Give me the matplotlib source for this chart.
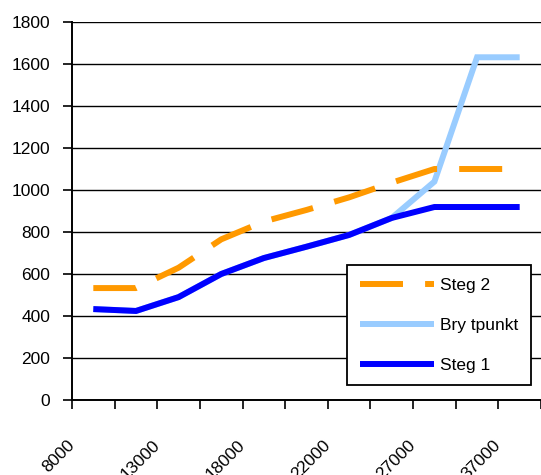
import numpy as np
import matplotlib
matplotlib.use("Agg")
import matplotlib.pyplot as plt
from matplotlib.transforms import ScaledTranslation

plt.rcParams['font.family'] = ['Liberation Sans', 'DejaVu Sans']

# data
steg1 = [433, 424, 490, 600, 676, 730, 786, 867, 919, 919, 919]
brytpunkt = [433, 424, 490, 600, 676, 730, 786, 867, 1040, 1632, 1632]
steg2 = [533, 533, 630, 765, 850, 905, 965, 1035, 1100, 1100, 1100]
# labels sit on every second category boundary
tick_labels = ["8000", "", "13000", "", "18000", "", "22000", "", "27000", "", "37000", ""]

x = np.arange(len(steg1))

fig = plt.figure(figsize=(5.41, 4.75), dpi=100)
ax = fig.add_axes([72 / 541, 1 - 400 / 475, 1 - 72 / 541, (400 - 22) / 475])

lw = 4.3
l_bry, = ax.plot(x, brytpunkt, color='#99CCFF', lw=lw, solid_capstyle='butt',
                 solid_joinstyle='miter', label='Bry tpunkt', zorder=3)
l_s1, = ax.plot(x, steg1, color='#0000FF', lw=lw, solid_capstyle='butt',
                solid_joinstyle='miter', label='Steg 1', zorder=4)
l_s2, = ax.plot(x, steg2, color='#FF9900', lw=lw, linestyle=(0, (7.2, 3.7)),
                dash_capstyle='butt', label='Steg 2', zorder=5)

# categories are 43 px wide, the picture is cut at the right edge
ax.set_xlim(-0.5, (541 - 72) / 43 - 0.5)
ax.set_ylim(0, 1800)

ax.set_xticks(np.arange(len(tick_labels)) - 0.5)
ax.set_xticklabels(tick_labels, rotation=45, ha='right', va='center',
                   rotation_mode='anchor', fontsize=12.5)
shift = ScaledTranslation(3 / 72, 0, fig.dpi_scale_trans)
for lab in ax.get_xticklabels():
    lab.set_transform(lab.get_transform() + shift)

ax.set_yticks(np.arange(0, 1801, 200))
ax.tick_params(axis='y', labelsize=12.5, length=6.5, width=1.2, pad=9, direction='out')
ax.tick_params(axis='x', length=6.5, width=1.2, pad=24.5, direction='out')

ax.yaxis.grid(True, color='black', lw=1.0)
ax.set_axisbelow(True)
for s in ['top', 'right']:
    ax.spines[s].set_visible(False)
for s in ['left', 'bottom']:
    ax.spines[s].set_linewidth(1.4)
    ax.spines[s].set_zorder(6)

leg = ax.legend(handles=[l_s2, l_bry, l_s1], loc='upper left',
                bbox_to_anchor=(347 / 541, 1 - 265 / 475),
                bbox_transform=fig.transFigure, borderaxespad=0,
                fontsize=12.5, handlelength=4.3, labelspacing=1.43,
                handletextpad=0.35, borderpad=0.72, fancybox=False,
                framealpha=1, edgecolor='black')
leg.get_frame().set_linewidth(1.3)
leg.set_zorder(10)

fig.savefig("out.png", dpi=100)
